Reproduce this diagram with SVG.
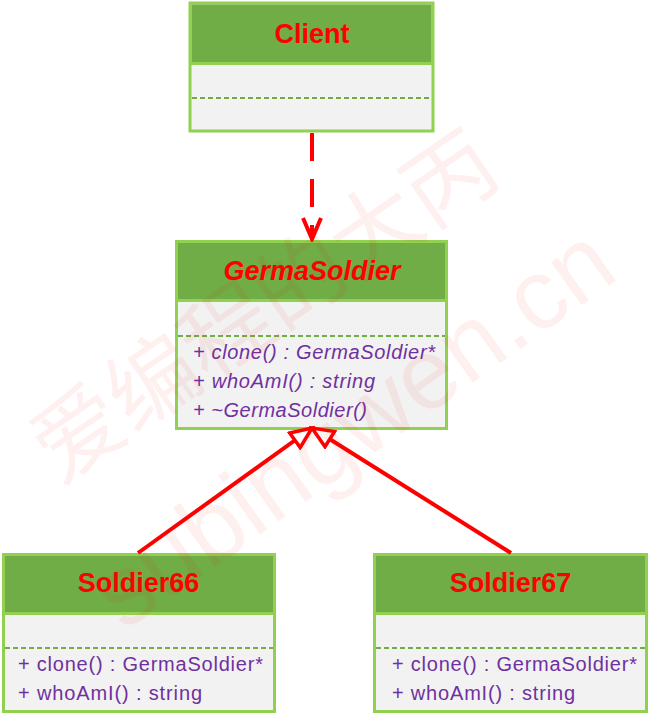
<svg xmlns="http://www.w3.org/2000/svg" width="651" height="720" viewBox="0 0 651 720">
<style>
.box{fill:#F2F2F2;stroke:#92D050;stroke-width:3}
.hdr{fill:#70AD47}
.div{stroke:#92D050;stroke-width:3}
.dash{stroke:#70AD47;stroke-width:2;stroke-dasharray:5 3}
.title{font-family:"Liberation Sans",Arial,sans-serif;font-size:27px;font-weight:bold;fill:#FF0000;text-anchor:middle}
.it{font-style:italic}
.m{font-family:"Liberation Sans",Arial,sans-serif;font-size:20px;fill:#7030A0}
.conn{stroke:#FF0000;stroke-width:4;fill:none}
.wm{fill:#FF0000;fill-opacity:0.06}
</style>
<defs>
<marker id="tri" markerUnits="userSpaceOnUse" viewBox="0 0 26 22" refX="23" refY="11" markerWidth="26" markerHeight="22" orient="auto">
<path d="M2,2 L23,11 L2,20 Z" fill="#FFFFFF" stroke="#FF0000" stroke-width="3.5" stroke-linejoin="miter"/>
</marker>
<marker id="open" markerUnits="userSpaceOnUse" viewBox="0 0 26 22" refX="23" refY="11" markerWidth="26" markerHeight="22" orient="auto">
<path d="M2,2 L23,11 L2,20" fill="none" stroke="#FF0000" stroke-width="4" stroke-linejoin="miter"/>
</marker>
</defs>
<rect width="651" height="720" fill="#FFFFFF"/>

<g id="Client">
<rect class="box" x="190" y="3" width="243" height="128"/>
<rect class="hdr" x="191.5" y="4.5" width="240" height="58"/>
<line class="div" x1="190" y1="63.5" x2="433" y2="63.5"/>
<line class="dash" x1="192" y1="98" x2="431" y2="98"/>
<text class="title" x="312" y="43">Client</text>
</g>

<g id="GermaSoldier">
<rect class="box" x="176.5" y="241.5" width="270" height="187"/>
<rect class="hdr" x="178" y="243" width="267" height="56"/>
<line class="div" x1="176.5" y1="300.5" x2="446.5" y2="300.5"/>
<line class="dash" x1="178" y1="336" x2="445" y2="336"/>
<text class="title it" x="312" y="280">GermaSoldier</text>
<text class="m it" x="193" y="359" textLength="242">+ clone() : GermaSoldier*</text>
<text class="m it" x="193" y="388" textLength="182">+ whoAmI() : string</text>
<text class="m it" x="193" y="417" textLength="174">+ ~GermaSoldier()</text>
</g>

<g id="Soldier66">
<rect class="box" x="3.5" y="554.5" width="271" height="157"/>
<rect class="hdr" x="5" y="556" width="268" height="56"/>
<line class="div" x1="3.5" y1="613.5" x2="274.5" y2="613.5"/>
<line class="dash" x1="5" y1="648" x2="273" y2="648"/>
<text class="title" x="138.5" y="592">Soldier66</text>
<text class="m" x="18" y="671" textLength="245">+ clone() : GermaSoldier*</text>
<text class="m" x="18" y="700" textLength="184">+ whoAmI() : string</text>
</g>

<g id="Soldier67">
<rect class="box" x="374.5" y="554.5" width="272" height="157"/>
<rect class="hdr" x="376" y="556" width="269" height="56"/>
<line class="div" x1="374.5" y1="613.5" x2="646.5" y2="613.5"/>
<line class="dash" x1="376" y1="648" x2="645" y2="648"/>
<text class="title" x="510.5" y="592">Soldier67</text>
<text class="m" x="392" y="671" textLength="245">+ clone() : GermaSoldier*</text>
<text class="m" x="392" y="700" textLength="183">+ whoAmI() : string</text>
</g>

<g id="connectors">
<line class="conn" x1="312" y1="133" x2="312" y2="239" stroke-dasharray="28 18" marker-end="url(#open)"/>
<line class="conn" x1="138" y1="553" x2="312" y2="428" marker-end="url(#tri)"/>
<line class="conn" x1="511" y1="553" x2="312" y2="428" marker-end="url(#tri)"/>
</g>

<g id="watermark">
<text class="wm" transform="translate(260,300) rotate(-34.5)" text-anchor="middle" dominant-baseline="central" font-family="'Noto Sans CJK SC',sans-serif" font-size="90">爱编程的大丙</text>
<text class="wm" transform="translate(352,426) rotate(-35.5)" text-anchor="middle" dominant-baseline="central" font-family="'Liberation Sans',Arial,sans-serif" font-size="100">subingwen.cn</text>
</g>
</svg>
